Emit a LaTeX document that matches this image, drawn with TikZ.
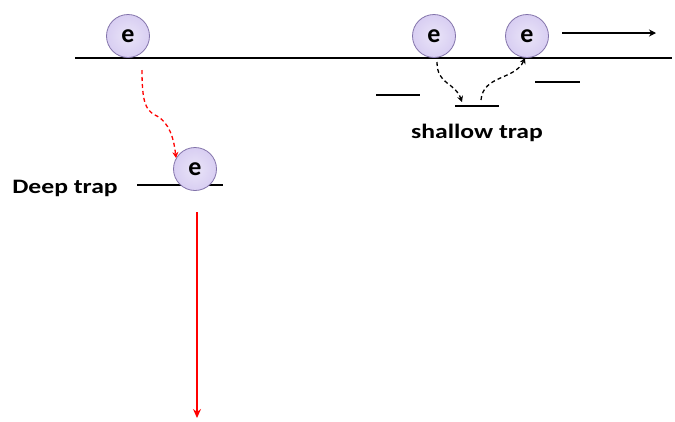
\documentclass[tikz,border=0pt]{standalone}
\usepackage{fontspec}
\setmainfont{Carlito}
\usetikzlibrary{arrows.meta}
\definecolor{ballfill}{RGB}{216,206,242}
\definecolor{balledge}{RGB}{130,115,170}
\definecolor{trapred}{RGB}{255,0,0}
\tikzset{
  electron/.style={circle, minimum size=43pt, inner sep=0pt, draw=balledge, line width=0.8pt,
    inner color=ballfill!55!white, outer color=ballfill, font=\bfseries\fontsize{26}{26}\selectfont},
  level/.style={line width=1.6pt, black},
  label/.style={font=\bfseries\fontsize{20.5}{20.5}\selectfont, inner sep=0pt, xscale=1.25},
  hop/.style={line width=1.3pt, dashed, dash pattern=on 4pt off 3pt, -{Stealth[length=6pt,width=6pt]}},
}
\begin{document}
\begin{tikzpicture}[x=1pt,y=-1pt]
\useasboundingbox (0,0) rectangle (675,421);
% conduction band edge
\coordinate (cbL) at (75,58);
\coordinate (cbR) at (672,58);
\draw[level] (cbL) -- (cbR);
% shallow trap levels
\coordinate (s1a) at (376,95); \coordinate (s1b) at (420,95);
\coordinate (s2a) at (455,106); \coordinate (s2b) at (499,106);
\coordinate (s3a) at (535,82); \coordinate (s3b) at (580,82);
\draw[level] (s1a) -- (s1b);
\draw[level] (s2a) -- (s2b);
\draw[level] (s3a) -- (s3b);
% deep trap level
\coordinate (dA) at (137,185); \coordinate (dB) at (223,185);
\draw[level] (dA) -- (dB);
% electrons
\node[electron] (e1) at (128,36) {e};
\node[electron] (e2) at (434,36) {e};
\node[electron] (e3) at (527,36) {e};
\node[electron] (e4) at (195,169) {e};
% labels
\node[label] (deep) at (65,188) {Deep trap};
\node[label] (shallow) at (477,133) {shallow trap};
% drift to the right
\coordinate (dr1) at (562,33); \coordinate (dr2) at (656,33);
\draw[line width=1.3pt, -{Stealth[length=7pt,width=7pt]}] (dr1) -- (dr2);
% capture into the deep trap
\coordinate (r0) at (142,70);
\draw[hop, trapred] (r0) .. controls (142,100) and (145,110) .. (155,115)
  .. controls (170,122) and (174,140) .. (e4.150);
% no release from the deep trap
\coordinate (r1) at (197,212); \coordinate (r2) at (197,418);
\draw[line width=1.3pt, trapred, -{Stealth[length=9pt,width=8pt]}] (r1) -- (r2);
% shallow trapping and re-emission
\coordinate (b0) at (437,62);
\coordinate (b1) at (462,102);
\coordinate (b2) at (481,100);
\draw[hop] (b0) .. controls (437,85) and (455,82) .. (b1);
\draw[hop] (b2) .. controls (483,75) and (515,80) .. (e3.-95);
\end{tikzpicture}
\end{document}
